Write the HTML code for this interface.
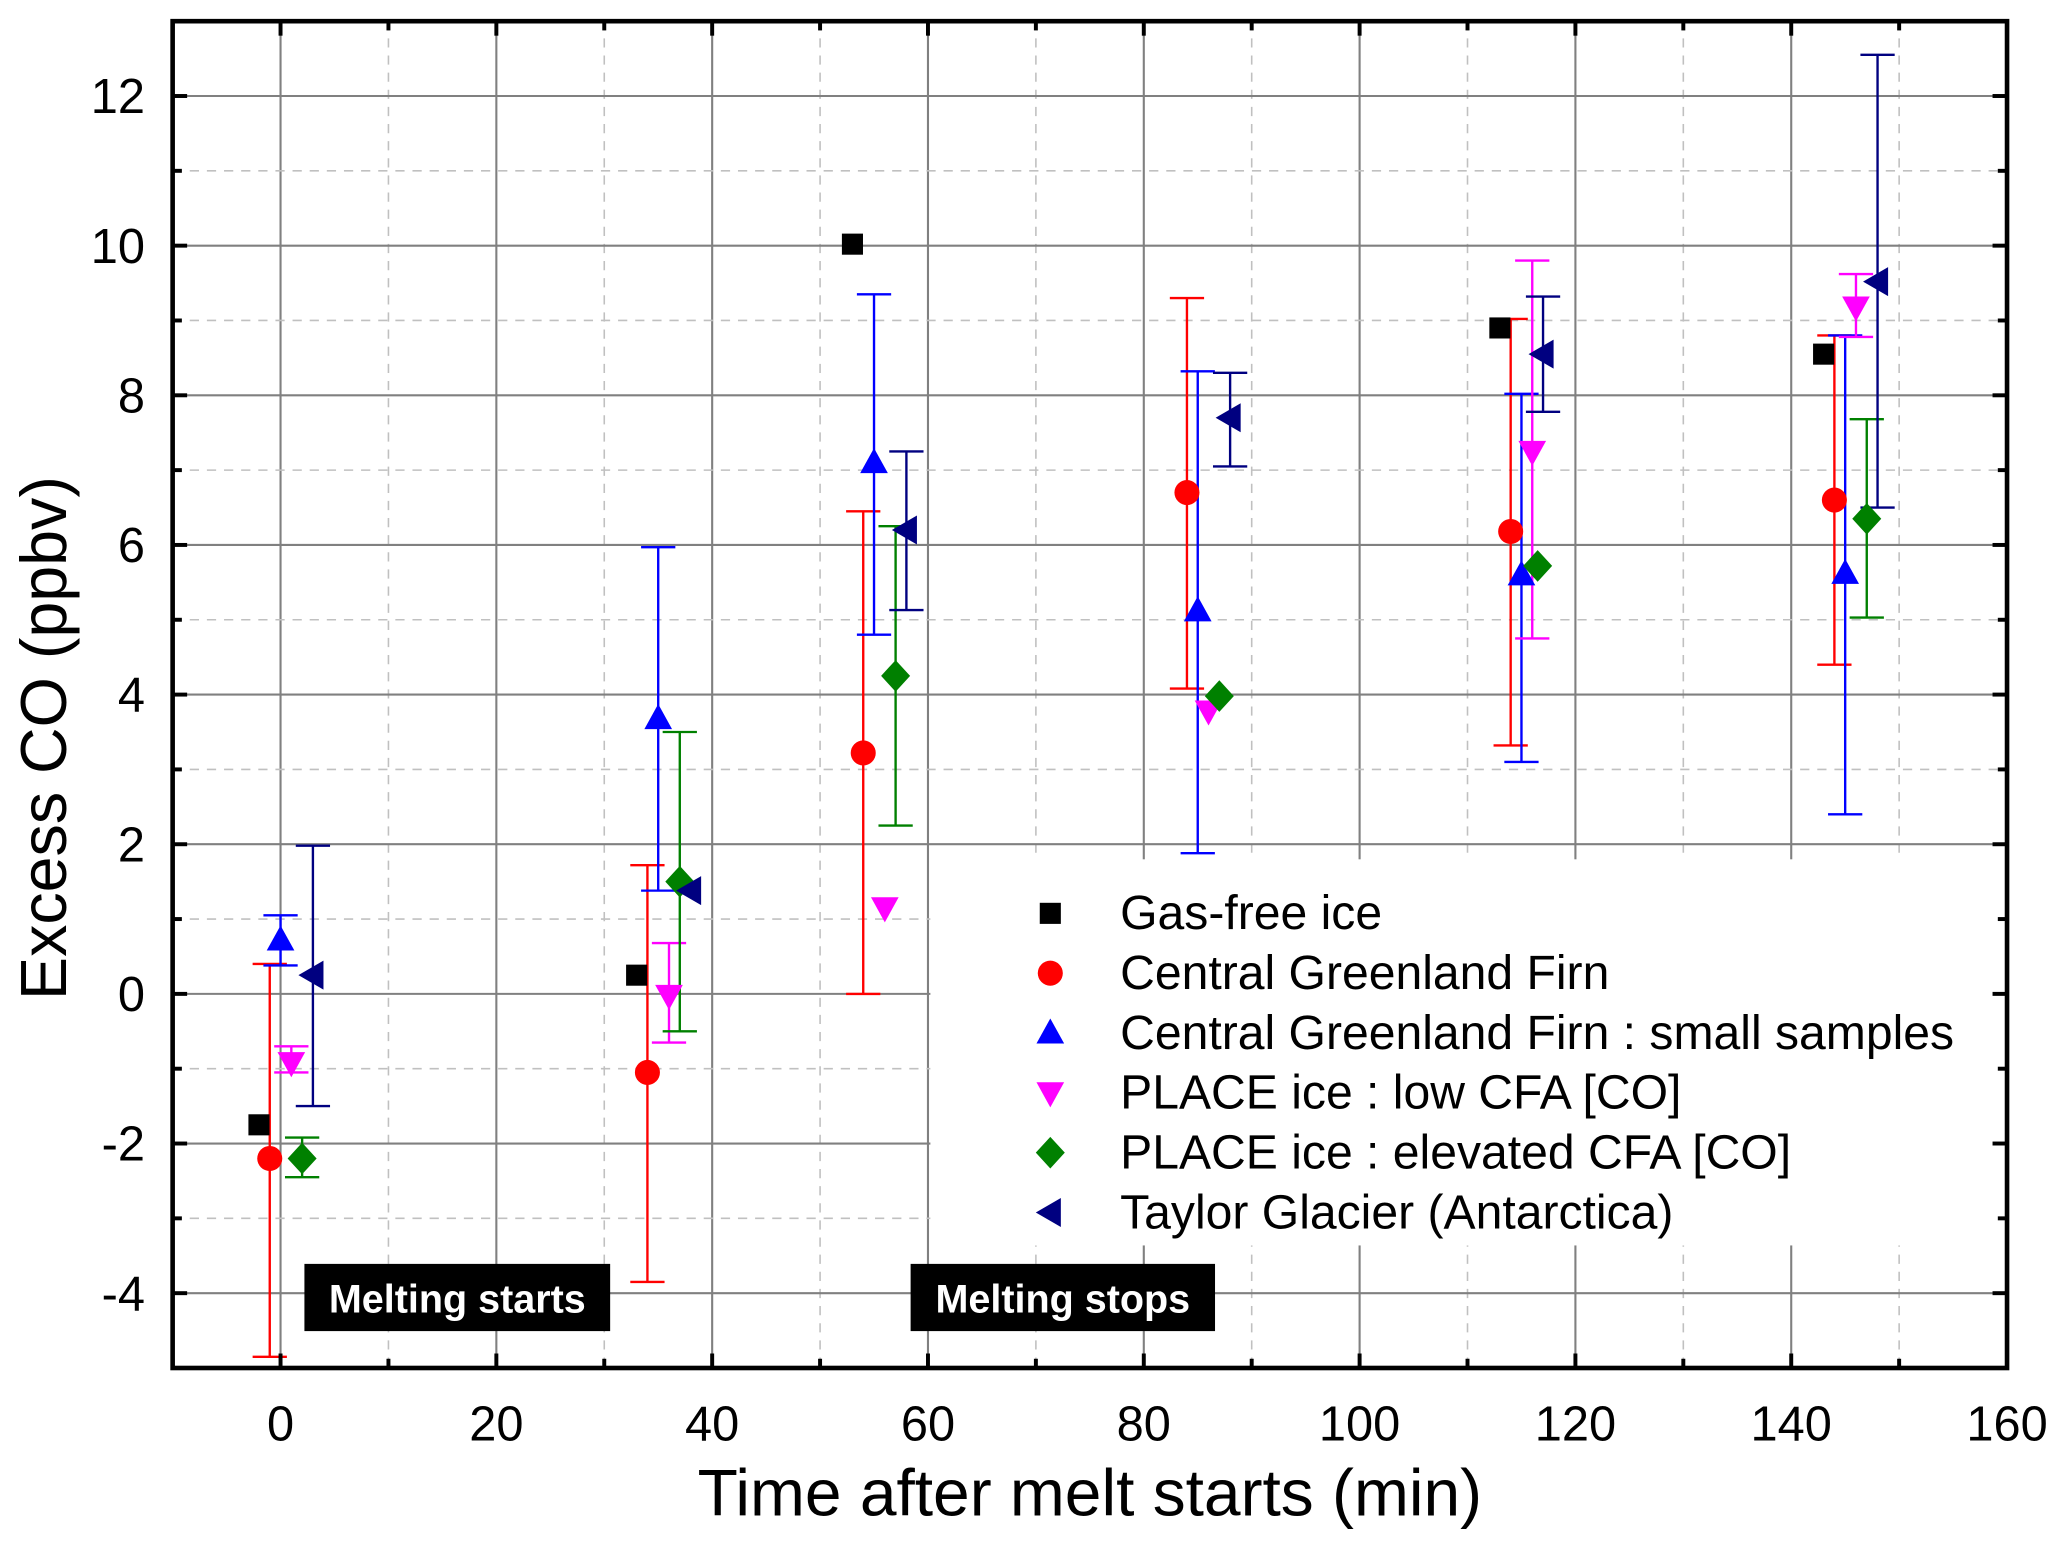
<!DOCTYPE html>
<html><head><meta charset="utf-8"><style>
html,body{margin:0;padding:0;background:#fff}
svg{display:block}
text{font-family:"Liberation Sans",sans-serif}
</style></head><body>
<svg id="chart" width="2067" height="1546" viewBox="0 0 1568.5 1173" xmlns="http://www.w3.org/2000/svg">
<g id="grid"></g>
<g id="marks"></g>
<g id="axes"></g>
</svg>
<script>
const seriesNames = ["Gas-free ice","Central Greenland Firn","Central Greenland Firn : small samples","PLACE ice : low CFA [CO]","PLACE ice : elevated CFA [CO]","Taylor Glacier (Antarctica)"];
const seriesColors = ["#000000","#ff0000","#0000ff","#ff00ff","#008000","#000080"];
const seriesShapes = ["square","circle","up","down","diamond","left"];
const gasX = [-2,33,53,113,143];
const gasY = [-1.75,0.25,10.02,8.9,8.55];
const cgfX = [-1,34,54,84,114,144];
const cgfY = [-2.2,-1.05,3.22,6.7,6.18,6.6];
const cgfLo = [-4.85,-3.85,0,4.08,3.32,4.4];
const cgfHi = [0.4,1.72,6.45,9.3,9.02,8.8];
const smallX = [0,35,55,85,115,145];
const smallY = [0.72,3.68,7.1,5.12,5.6,5.62];
const smallLo = [0.38,1.38,4.8,1.88,3.1,2.4];
const smallHi = [1.05,5.97,9.35,8.32,8.02,8.8];
const lowX = [1,36,56,86,116,146];
const lowY = [-0.92,-0.02,1.15,3.78,7.25,9.18];
const lowLo = [-1.05,-0.65,1.15,3.78,4.75,8.78];
const lowHi = [-0.7,0.68,1.15,3.78,9.8,9.62];
const elevX = [2,37,57,87,116.5,147];
const elevY = [-2.2,1.5,4.25,3.98,5.72,6.35];
const elevLo = [-2.45,-0.5,2.25,3.98,5.72,5.03];
const elevHi = [-1.92,3.5,6.25,3.98,5.72,7.68];
const taylorX = [3,38,58,88,117,148];
const taylorY = [0.25,1.38,6.2,7.7,8.55,9.52];
const taylorLo = [-1.5,1.38,5.13,7.05,7.78,6.5];
const taylorHi = [1.98,1.38,7.25,8.3,9.32,12.55];
const xTicks = [0,20,40,60,80,100,120,140,160];
const yTicks = [-4,-2,0,2,4,6,8,10,12];

const L=131,R=1523,T=16,B=1038;
const xMin=-10,xMax=160,yMin=-5,yMax=13;
const sx=v=>L+(v-xMin)/(xMax-xMin)*(R-L);
const sy=v=>B-(v-yMin)/(yMax-yMin)*(B-T);
const NS="http://www.w3.org/2000/svg";
function mk(tag,attrs,parent){const e=document.createElementNS(NS,tag);for(const k in attrs)e.setAttribute(k,attrs[k]);parent.appendChild(e);return e;}
const grid=document.getElementById('grid'),marks=document.getElementById('marks'),axes=document.getElementById('axes');

for(let v=-10;v<=160;v+=10){ if(v<=-10||v>=160)continue;
  const major=v%20===0;
  const g=mk('line',{x1:sx(v),x2:sx(v),y1:T,y2:B,stroke:major?'#808080':'#c0c0c0','stroke-width':major?1.6:1.2,'stroke-dasharray':major?'':'7,6'},grid);
  
  
}
for(let v=-4;v<=12;v+=1){
  const major=v%2===0;
  const g=mk('line',{x1:L,x2:R,y1:sy(v),y2:sy(v),stroke:major?'#808080':'#c0c0c0','stroke-width':major?1.6:1.2,'stroke-dasharray':major?'':'7,6'},grid);
  
  
}
const lb=mk('rect',{x:706,y:652,width:R-706,height:293,fill:'#fff'},grid);



function marker(shape,color,x,y,parent){
  let e;
  if(shape==='square')e=mk('rect',{x:x-8,y:y-8,width:16,height:16,fill:color},parent);
  else if(shape==='circle')e=mk('circle',{cx:x,cy:y,r:9.5,fill:color},parent);
  else if(shape==='up')e=mk('polygon',{points:`${x},${y-11} ${x+10.5},${y+8} ${x-10.5},${y+8}`,fill:color},parent);
  else if(shape==='down')e=mk('polygon',{points:`${x},${y+11} ${x+10.5},${y-8} ${x-10.5},${y-8}`,fill:color},parent);
  else if(shape==='diamond')e=mk('polygon',{points:`${x},${y-12} ${x+11},${y} ${x},${y+12} ${x-11},${y}`,fill:color},parent);
  else e=mk('polygon',{points:`${x-11},${y} ${x+8},${y-11} ${x+8},${y+11}`,fill:color},parent);
  return e;
}
const allX=[gasX,cgfX,smallX,lowX,elevX,taylorX];
const allY=[gasY,cgfY,smallY,lowY,elevY,taylorY];
const allLo=[null,cgfLo,smallLo,lowLo,elevLo,taylorLo];
const allHi=[null,cgfHi,smallHi,lowHi,elevHi,taylorHi];
for(let s=0;s<6;s++){
  if(!allLo[s])continue;
  for(let i=0;i<allX[s].length;i++){
    if(allLo[s][i]===allHi[s][i])continue;
    const x=sx(allX[s][i]),y1=sy(allLo[s][i]),y2=sy(allHi[s][i]);
    const g=mk('g',{stroke:seriesColors[s],'stroke-width':1.8},marks);
    
    
    mk('line',{x1:x,x2:x,y1:y1,y2:y2},g);
    mk('line',{x1:x-13,x2:x+13,y1:y1,y2:y1},g);
    mk('line',{x1:x-13,x2:x+13,y1:y2,y2:y2},g);
  }
}
for(let s=0;s<6;s++){
  for(let i=0;i<allX[s].length;i++){
    const e=marker(seriesShapes[s],seriesColors[s],sx(allX[s][i]),sy(allY[s][i]),marks);
    
    
  }
}
for(let s=0;s<6;s++){
  const y=693+s*45.4;
  const e=marker(seriesShapes[s],seriesColors[s],797,y,axes);
  
  
  const t=mk('text',{x:850,y:y+12,'font-size':36.5,fill:'#000'},axes);
  t.textContent=seriesNames[s];
  
  
}
[["Melting starts",231,463],["Melting stops",691,922]].forEach(a=>{
  const g=mk('g',{},axes);
  
  
  mk('rect',{x:a[1],y:959,width:a[2]-a[1],height:51,fill:'#000'},g);
  const t=mk('text',{x:(a[1]+a[2])/2,y:996,'font-size':30,'font-weight':'bold',fill:'#fff','text-anchor':'middle'},g);
  t.textContent=a[0];
});
for(let v=-10;v<=160;v+=10){
  const major=v%20===0,len=major?11:7,x=sx(v);
  mk('line',{x1:x,x2:x,y1:B,y2:B-len,stroke:'#000','stroke-width':3},axes);
  mk('line',{x1:x,x2:x,y1:T,y2:T+len,stroke:'#000','stroke-width':3},axes);
}
for(let v=-5;v<=13;v++){
  const major=v%2===0,len=major?11:7,y=sy(v);
  mk('line',{x1:L,x2:L+len,y1:y,y2:y,stroke:'#000','stroke-width':3},axes);
  mk('line',{x1:R,x2:R-len,y1:y,y2:y,stroke:'#000','stroke-width':3},axes);
}
xTicks.forEach(v=>{const t=mk('text',{x:sx(v),y:1093,'font-size':37,'text-anchor':'middle'},axes);t.textContent=v;
  
  });
yTicks.forEach(v=>{const t=mk('text',{x:110,y:sy(v)+13,'font-size':37,'text-anchor':'end'},axes);t.textContent=v;
  
  });
const fr=mk('rect',{x:L,y:T,width:R-L,height:B-T,fill:'none',stroke:'#000','stroke-width':3.5},axes);


const xt=mk('text',{x:827,y:1150,'font-size':50,'text-anchor':'middle'},axes);
xt.textContent='Time after melt starts (min)';


const yt=mk('text',{x:0,y:0,'font-size':49,'text-anchor':'middle',transform:'translate(50,560) rotate(-90)'},axes);
yt.textContent='Excess CO (ppbv)';


</script>
</body></html>
